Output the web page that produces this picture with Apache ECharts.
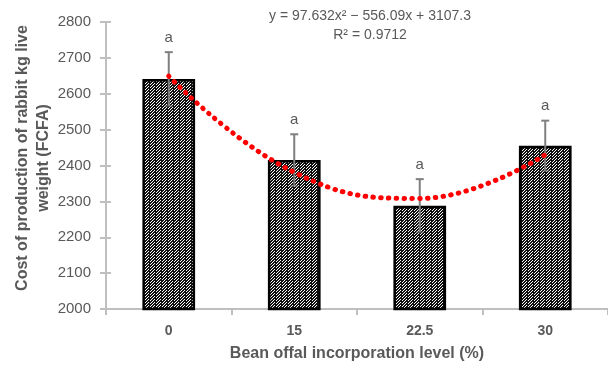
<!DOCTYPE html>
<html>
<head>
<meta charset="utf-8">
<script src="https://cdn.jsdelivr.net/npm/echarts@6/dist/echarts.min.js"></script>
<style>
  html, body { margin: 0; padding: 0; background: #fff; }
  #chart { width: 608px; height: 366px; }
</style>
</head>
<body>
<div id="chart"></div>
<script>
var categories = ['0', '15', '22.5', '30'];
var costValues = [2641, 2415, 2288, 2455];
var errValues = [75, 72, 74, 70];
var trendValues = [2649, 2381, 2308, 2430];
var yTicks = { min: 2000, max: 2800, interval: 100 };

var grey = '#595959';
var font = 'Liberation Sans';

// hatch pattern for the bars
function makeHatch() {
  var c = document.createElement('canvas');
  c.width = 6; c.height = 6;
  var ctx = c.getContext('2d');
  ctx.fillStyle = '#fff';
  ctx.fillRect(0, 0, 6, 6);
  ctx.fillStyle = '#111';
  for (var y = 0; y < 6; y++) {
    for (var x = 0; x < 6; x++) {
      var d = (x + y) % 3;
      if (d !== 0 || ((x + 2 * y) % 6 === 1)) ctx.fillRect(x, y, 1, 1);
    }
  }
  return c;
}

var errData = costValues.map(function (v, i) {
  return [i, v - errValues[i], v + errValues[i]];
});

var myChart = echarts.init(document.getElementById('chart'), null, { renderer: 'canvas' });

var axisGrey = '#bfbfbf';

var option = {
  animation: false,
  textStyle: { fontFamily: font },
  grid: { left: 106, right: 0, top: 22, bottom: 57, containLabel: false },
  xAxis: {
    type: 'category',
    data: categories,
    axisLine: { lineStyle: { color: axisGrey, width: 2 } },
    axisTick: { show: true, length: 6, lineStyle: { color: axisGrey, width: 2 } },
    axisLabel: { color: grey, fontSize: 14, fontWeight: 'bold', margin: 15 }
  },
  yAxis: [
    {
      type: 'value',
      min: yTicks.min,
      max: yTicks.max,
      interval: yTicks.interval,
      axisLine: { show: true, lineStyle: { color: axisGrey, width: 2 } },
      axisTick: { show: true, length: 6, lineStyle: { color: axisGrey, width: 2 } },
      axisLabel: { color: grey, fontSize: 15, margin: 15, formatter: function (v) { return String(v); } },
      splitLine: { show: false }
    },
    {
      // inner half of the crossing ticks
      type: 'value',
      position: 'left',
      min: yTicks.min,
      max: yTicks.max,
      interval: yTicks.interval,
      axisLine: { show: false },
      axisTick: { show: true, inside: true, length: 5, lineStyle: { color: axisGrey, width: 2 } },
      axisLabel: { show: false },
      splitLine: { show: false }
    }
  ],
  graphic: [
    {
      type: 'text',
      style: { text: 'y = 97.632x² − 556.09x + 3107.3', fill: grey, font: '14px ' + font, textAlign: 'center' },
      x: 370, y: 9
    },
    {
      type: 'text',
      style: { text: 'R² = 0.9712', fill: grey, font: '14px ' + font, textAlign: 'center' },
      x: 370, y: 28
    },
    {
      type: 'text',
      style: { text: 'Cost of production of rabbit kg live', fill: grey, font: 'bold 16px ' + font, textAlign: 'center', textVerticalAlign: 'middle' },
      x: 23, y: 158, rotation: Math.PI / 2
    },
    {
      type: 'text',
      style: { text: 'weight (FCFA)', fill: grey, font: 'bold 16px ' + font, textAlign: 'center', textVerticalAlign: 'middle' },
      x: 44, y: 158, rotation: Math.PI / 2
    },
    {
      type: 'text',
      style: { text: 'Bean offal incorporation level (%)', fill: grey, font: 'bold 16px ' + font, textAlign: 'center', textVerticalAlign: 'middle' },
      x: 357, y: 354
    }
  ],
  series: [
    {
      type: 'bar',
      data: costValues,
      barWidth: '42%',
      itemStyle: {
        color: { image: makeHatch(), repeat: 'repeat' },
        borderColor: '#000',
        borderWidth: 2.5
      },
      z: 2
    },
    {
      type: 'custom',
      data: errData,
      z: 3,
      renderItem: function (params, api) {
        var x = api.coord([api.value(0), 0])[0];
        var lo = api.coord([api.value(0), api.value(1)]);
        var hi = api.coord([api.value(0), api.value(2)]);
        var style = { stroke: '#7f7f7f', lineWidth: 2 };
        return {
          type: 'group',
          children: [
            { type: 'line', shape: { x1: x, y1: lo[1], x2: x, y2: hi[1] }, style: style },
            { type: 'line', shape: { x1: x - 4, y1: hi[1], x2: x + 4, y2: hi[1] }, style: style },
            { type: 'line', shape: { x1: x - 4, y1: lo[1], x2: x + 4, y2: lo[1] }, style: { stroke: 'rgba(127,127,127,0.5)', lineWidth: 2 } },
            {
              type: 'text',
              style: { text: 'a', x: x, y: hi[1] - 7, fill: grey, font: '15px ' + font, textAlign: 'center', textVerticalAlign: 'bottom' }
            }
          ]
        };
      }
    },
    {
      type: 'line',
      data: trendValues,
      smooth: 0.45,
      symbol: 'none',
      z: 4,
      lineStyle: { color: '#ff0000', width: 5, type: [0.5, 7.3], cap: 'round' }
    }
  ]
};

myChart.setOption(option);
</script>
</body>
</html>
